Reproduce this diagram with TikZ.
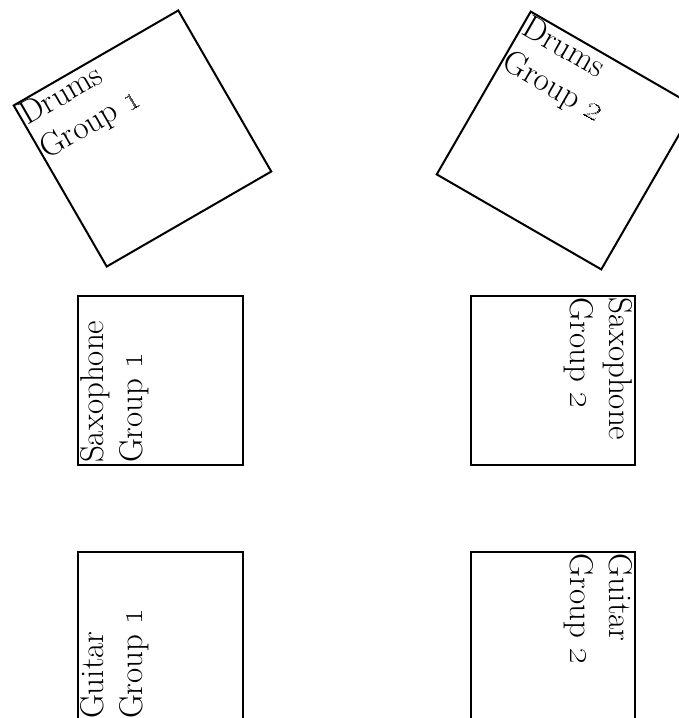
\documentclass[tikz,border=0pt]{standalone}
\usepackage{amsmath}

\begin{document}
\begin{tikzpicture}[x=1pt, y=1pt, line width=2pt,
                    group box/.style={draw, outer sep=0pt, minimum width=#1},
                    group box/.default=190pt,
                    group text/.style={anchor=north west, inner sep=1pt, align=left,
                                       font=\fontsize{33}{39}\selectfont}]
  \useasboundingbox (0,0) rectangle (679,718);

  % drum kits, tilted
  \node[group box, minimum height=186pt, rotate=30] (d1) at (142.5,579.5) {};
  \node[group box, minimum height=188pt, rotate=-30] (d2) at (566,577.5) {};

  % saxophones and guitars
  \node[group box=169pt, minimum height=165pt, rotate=90] (s1) at (160.5,337.5) {};
  \node[group box=169pt, minimum height=164pt, rotate=-90] (s2) at (553,337.5) {};
  \node[group box=169pt, minimum height=165pt, rotate=90] (g1) at (160.5,81.5) {};
  \node[group box=169pt, minimum height=164pt, rotate=-90] (g2) at (553,81.5) {};

  % labels
  \node[group text, rotate=30] (d1 text) at (d1.north west) {Drums\\Group \oldstylenums{1}};
  \node[group text, rotate=-30] (d2 text) at (d2.north west) {Drums\\Group \oldstylenums{2}};
  \node[group text, rotate=90] (s1 text) at (s1.north west) {Saxophone\\Group \oldstylenums{1}};
  \node[group text, rotate=-90] (s2 text) at (s2.north west) {Saxophone\\Group \oldstylenums{2}};
  \node[group text, rotate=90] (g1 text) at (g1.north west) {Guitar\\Group \oldstylenums{1}};
  \node[group text, rotate=-90] (g2 text) at (g2.north west) {Guitar\\Group \oldstylenums{2}};
\end{tikzpicture}
\end{document}
